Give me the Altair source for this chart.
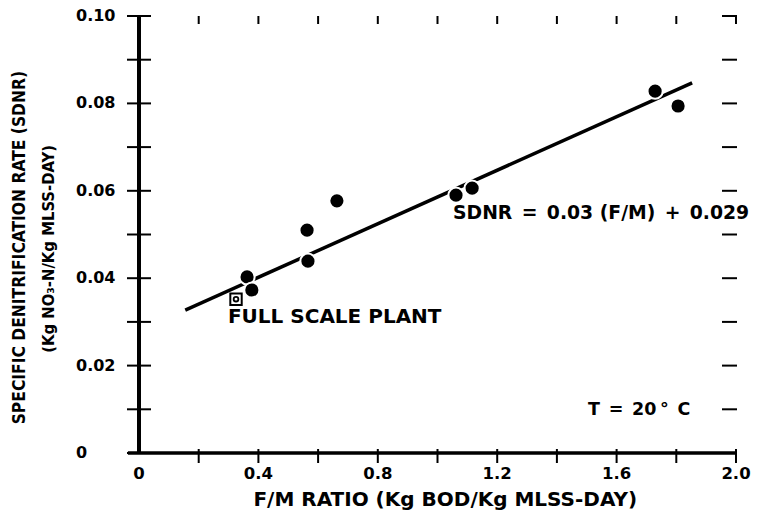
import altair as alt
import pandas as pd

# ---- data ----
fm_ratio = [0.362, 0.378, 0.563, 0.566, 0.663, 1.062, 1.116, 1.729, 1.806]
sdnr = [0.0403, 0.0373, 0.0510, 0.0439, 0.0577, 0.0590, 0.0606, 0.0828, 0.0794]

plant_fm = [0.325]
plant_sdnr = [0.0352]

fit_fm = [0.155, 1.853]
fit_sdnr = [0.0327, 0.0847]

x_label_values = [0, 0.4, 0.8, 1.2, 1.6, 2.0]
x_label_texts = ["0", "0.4", "0.8", "1.2", "1.6", "2.0"]
x_tick_values = [0.2, 0.4, 0.6, 0.8, 1.0, 1.2, 1.4, 1.6, 1.8, 2.0]
y_label_values = [0, 0.02, 0.04, 0.06, 0.08, 0.10]
y_label_texts = ["0", "0.02", "0.04", "0.06", "0.08", "0.10"]
y_tick_values = [0, 0.01, 0.02, 0.03, 0.04, 0.05, 0.06, 0.07, 0.08, 0.09, 0.10]
y_right_tick_values = [0.01, 0.02, 0.03, 0.04, 0.05, 0.06, 0.07, 0.08, 0.09, 0.10]

eq_text = ["SDNR\u2002=\u20020.03 (F/M)\u2002+\u20020.029"]
eq_pos = ([1.052], [0.0549])
plant_text = ["FULL SCALE PLANT"]
plant_pos = ([0.298], [0.0311])
temp_text = ["T\u2002=\u200220\u2009°\u2002C"]
temp_pos = ([1.504], [0.0098])

x_title = ["F/M RATIO (Kg BOD/Kg MLSS-DAY)"]
x_title_pos = ([1.026], [0.0])
y_title_1 = ["SPECIFIC DENITRIFICATION RATE (SDNR)"]
y_title_1_pos = ([-0.400], [0.0470])
y_title_2 = ["(Kg NO\u2083-N/Kg MLSS-DAY)"]
y_title_2_pos = ([-0.303], [0.0467])

FONT = "DejaVu Sans"
NARROW = "Liberation Sans Narrow, DejaVu Sans Condensed, sans-serif"

xs = alt.Scale(domain=[0, 2], nice=False)
ys = alt.Scale(domain=[0, 0.1], nice=False)

pts = pd.DataFrame({"fm": fm_ratio, "sdnr": sdnr})
fit = pd.DataFrame({"fm": fit_fm, "sdnr": fit_sdnr})
plant = pd.DataFrame({"fm": plant_fm, "sdnr": plant_sdnr})


def X(f):
    return alt.X(f, axis=None)


def Y(f):
    return alt.Y(f, axis=None)


fit_line = alt.Chart(fit).mark_line(color="black", strokeWidth=3.5).encode(
    x=alt.X("fm:Q", scale=xs, axis=None),
    y=alt.Y("sdnr:Q", scale=ys, axis=None),
)

# axis lines (domain) drawn through the scales
left_domain = alt.Chart(pd.DataFrame({"a": [0.0], "y0": [0.0], "y1": [0.1]})).mark_rule(
    color="black", strokeWidth=4
).encode(x=X("a:Q"), y=Y("y0:Q"), y2="y1:Q")
bottom_domain = alt.Chart(pd.DataFrame({"a": [0.0], "x0": [-0.037], "x1": [2.0]})).mark_rule(
    color="black", strokeWidth=3.5
).encode(y=Y("a:Q"), x=X("x0:Q"), x2="x1:Q")

points = alt.Chart(pts).mark_point(
    shape="circle", filled=True, fill="black", stroke="white", strokeWidth=2,
    size=230, opacity=1,
).encode(x=X("fm:Q"), y=Y("sdnr:Q"))

plant_sq = alt.Chart(plant).mark_point(
    shape="square", filled=True, fill="white", stroke="black", strokeWidth=2, size=130, opacity=1
).encode(x=X("fm:Q"), y=Y("sdnr:Q"))
plant_dot = alt.Chart(plant).mark_point(
    shape="circle", filled=False, stroke="black", strokeWidth=1.8, size=22, opacity=1
).encode(x=X("fm:Q"), y=Y("sdnr:Q"))

left_ticks = alt.Chart(pd.DataFrame({"v": y_tick_values, "at": 0.0})).mark_tick(
    orient="horizontal", size=24, thickness=2, color="black", opacity=1
).encode(x=X("at:Q"), y=Y("v:Q"))

right_ticks = alt.Chart(pd.DataFrame({"v": y_right_tick_values, "at": 2.0})).mark_tick(
    orient="horizontal", size=15, thickness=2, color="black", opacity=1, xOffset=-6.5
).encode(x=X("at:Q"), y=Y("v:Q"))

bottom_ticks = alt.Chart(pd.DataFrame({"v": x_tick_values, "at": 0.0})).mark_tick(
    orient="vertical", size=14, thickness=2, color="black", opacity=1, yOffset=3
).encode(x=X("v:Q"), y=Y("at:Q"))

top_ticks = alt.Chart(pd.DataFrame({"v": x_tick_values, "at": 0.1})).mark_tick(
    orient="vertical", size=8, thickness=2, color="black", opacity=1, yOffset=4
).encode(x=X("v:Q"), y=Y("at:Q"))

y_labels = alt.Chart(pd.DataFrame({"v": y_label_values, "at": 0.0, "t": y_label_texts})).mark_text(
    align="left", baseline="middle", dx=-63, font=FONT, fontWeight="bold", fontSize=16, color="black"
).encode(x=X("at:Q"), y=Y("v:Q"), text="t:N")

x_labels = alt.Chart(pd.DataFrame({"v": x_label_values, "at": 0.0, "t": x_label_texts})).mark_text(
    align="center", baseline="middle", dy=21, font=FONT, fontWeight="bold", fontSize=16.5, color="black"
).encode(x=X("v:Q"), y=Y("at:Q"), text="t:N")

x_title_mark = alt.Chart(pd.DataFrame({"fm": x_title_pos[0], "sdnr": x_title_pos[1], "t": x_title})).mark_text(
    align="center", baseline="middle", dy=47, font=FONT, fontWeight="bold", fontSize=20, color="black"
).encode(x=X("fm:Q"), y=Y("sdnr:Q"), text="t:N")


def y_title_mark(texts, pos, size):
    df = pd.DataFrame({"fm": pos[0], "sdnr": pos[1], "t": texts})
    return alt.Chart(df).mark_text(
        align="center", baseline="middle", angle=270, font=NARROW, fontWeight="bold",
        fontSize=size, color="black",
    ).encode(x=X("fm:Q"), y=Y("sdnr:Q"), text="t:N")


def label(texts, pos, size):
    df = pd.DataFrame({"fm": pos[0], "sdnr": pos[1], "t": texts})
    return alt.Chart(df).mark_text(
        align="left", baseline="middle", font=FONT, fontWeight="bold",
        fontSize=size, color="black",
    ).encode(x=X("fm:Q"), y=Y("sdnr:Q"), text="t:N")


chart = alt.layer(
    fit_line, left_domain, bottom_domain,
    left_ticks, right_ticks, bottom_ticks, top_ticks,
    points, plant_sq, plant_dot,
    y_labels, x_labels, x_title_mark,
    y_title_mark(y_title_1, y_title_1_pos, 17.3),
    y_title_mark(y_title_2, y_title_2_pos, 16.5),
    label(eq_text, eq_pos, 18.8),
    label(plant_text, plant_pos, 20),
    label(temp_text, temp_pos, 17.5),
).properties(
    width=597, height=437,
    autosize=alt.AutoSizeParams(type="none"),
    padding={"left": 139, "top": 16, "right": 21, "bottom": 63},
    background="white",
).configure_view(stroke="transparent")

chart.save("out.html", embed_options={"renderer": "svg", "actions": False})
